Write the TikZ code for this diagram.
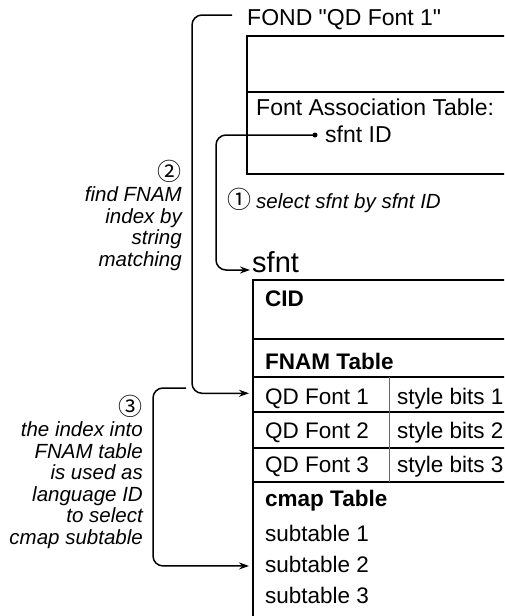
\documentclass[tikz,border=0pt]{standalone}
\usepackage{fontspec}
\setmainfont{Liberation Sans}[Ligatures=TeXOff]
\newfontfamily\circfont{Noto Sans CJK JP}
\usetikzlibrary{arrows.meta}
\begin{document}
\begin{tikzpicture}[x=1pt,y=-1pt,
  txt/.style={inner sep=0pt, font=\fontsize{22.5}{27}\selectfont},
  ftxt/.style={inner sep=0pt, font=\fontsize{23}{27}\selectfont},
  btxt/.style={inner sep=0pt, font=\fontsize{22.5}{27}\selectfont\bfseries},
  note/.style={inner sep=0pt, align=right, font=\fontsize{20.5}{21.5}\selectfont\itshape},
  box/.style={line width=1.8pt},
  rowline/.style={line width=1.4pt},
  colline/.style={line width=1pt, draw=black!60},
  conn/.style={line width=1.5pt, rounded corners=10pt, -{Stealth[length=10pt,width=7pt]}},
]
\newcommand{\circnum}[1]{{\circfont\upshape\fontsize{24}{21}\selectfont #1}}
\clip (0,0) rectangle (504,616);
% FOND resource
\node[ftxt, anchor=base west] (fond) at (247,25) {FOND "QD Font 1"};
\draw[box] (247,36) rectangle (540,174);
\draw[rowline] (247,92) -- (540,92);
\node[ftxt, anchor=base west] (fat) at (256,115) {Font Association Table:};
\node[ftxt, anchor=base west] (sid) at (325,142) {sfnt ID};
\node[circle, fill, inner sep=0pt, minimum size=5pt] (dot) at (315,135) {};
% step 1 label
\node[note, anchor=base west] (n1) at (227,208) {\circnum{①}\hspace{5pt}select sfnt by sfnt ID};
% sfnt
\node[inner sep=0pt, anchor=base west, font=\fontsize{29}{34}\selectfont] (sfnt) at (252,272) {sfnt};
\draw[box] (253,280) rectangle (540,640);
\draw[rowline] (253,339) -- (540,339);
\draw[rowline] (253,377) -- (540,377);
\draw[rowline] (253,412) -- (540,412);
\draw[rowline] (253,448) -- (540,448);
\draw[rowline] (253,482) -- (540,482);
\draw[colline] (389,377) -- (389,482);
\node[btxt, anchor=base west] (cid) at (265,306) {CID};
\node[btxt, anchor=base west] (fnam) at (265,369) {FNAM Table};
\node[txt, anchor=base west] (qd1) at (265,404) {QD Font 1};
\node[txt, anchor=base west] (sb1) at (397,404) {style bits 1};
\node[txt, anchor=base west] (qd2) at (265,438) {QD Font 2};
\node[txt, anchor=base west] (sb2) at (397,438) {style bits 2};
\node[txt, anchor=base west] (qd3) at (265,472) {QD Font 3};
\node[txt, anchor=base west] (sb3) at (397,472) {style bits 3};
\node[btxt, anchor=base west] (cmap) at (265,506) {cmap Table};
\node[txt, anchor=base west] (sub1) at (265,541) {subtable 1};
\node[txt, anchor=base west] (sub2) at (265,572) {subtable 2};
\node[txt, anchor=base west] (sub3) at (265,603) {subtable 3};
% step labels (anchored at the baseline of their last line)
\node[note, anchor=base east] (n2) at (182,266) {\circnum{②}\\find FNAM\\index by\\string\\matching};
\node[note, anchor=base east] (n3) at (143,544) {\circnum{③}\\the index into\\FNAM table\\is used as\\language ID\\to select\\cmap subtable};
% connectors
\coordinate (c3) at (186,388);
\draw[conn] (dot.center) -- (216,135) |- ([xshift=-2pt,yshift=2pt]sfnt.base west);
\draw[conn] ([xshift=-15pt,yshift=10pt]fond.base west) -- (192,15) |- ([xshift=-16pt,yshift=5pt]qd1.west);
\draw[conn] (c3) -- (153,388) |- ([xshift=-16pt,yshift=-2pt]sub2.west);
\end{tikzpicture}
\end{document}
